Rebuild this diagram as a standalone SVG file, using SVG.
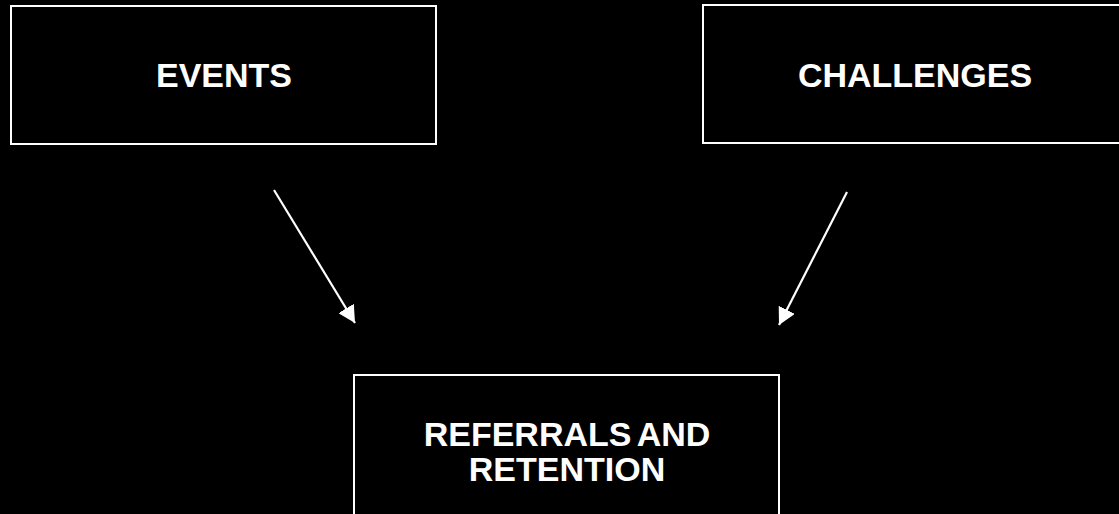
<svg xmlns="http://www.w3.org/2000/svg" width="1119" height="514" viewBox="0 0 1119 514">
  <style>
    .box { fill: #000; stroke: #fff; stroke-width: 2; }
    .lbl { fill: #fff; font-family: "Liberation Sans", Arial, sans-serif; font-weight: bold; font-size: 34px; text-anchor: middle; }
    .conn { stroke: #fff; stroke-width: 2.2; fill: none; }
  </style>
  <defs>
    <marker id="ah" markerUnits="userSpaceOnUse" markerWidth="19" markerHeight="18" refX="17" refY="9" orient="auto">
      <path d="M0,0 L17,9 L0,18 Z" fill="#fff"/>
    </marker>
  </defs>
  <rect x="0" y="0" width="1119" height="514" fill="#000"/>
  <g id="node-events">
    <rect class="box" x="11" y="6" width="425" height="138"/>
    <text class="lbl" x="224" y="87">EVENTS</text>
  </g>
  <g id="node-challenges">
    <rect class="box" x="703" y="5" width="424" height="138"/>
    <text class="lbl" x="915" y="87">CHALLENGES</text>
  </g>
  <g id="node-referrals">
    <rect class="box" x="354" y="375" width="425" height="142"/>
    <text class="lbl" x="567" y="446" word-spacing="-3"><tspan x="567" y="446">REFERRALS AND</tspan><tspan x="567" y="481">RETENTION</tspan></text>
  </g>
  <g id="connectors">
    <line class="conn" x1="274" y1="190" x2="355" y2="323" marker-end="url(#ah)"/>
    <line class="conn" x1="847" y1="192" x2="779" y2="325" marker-end="url(#ah)"/>
  </g>
</svg>
